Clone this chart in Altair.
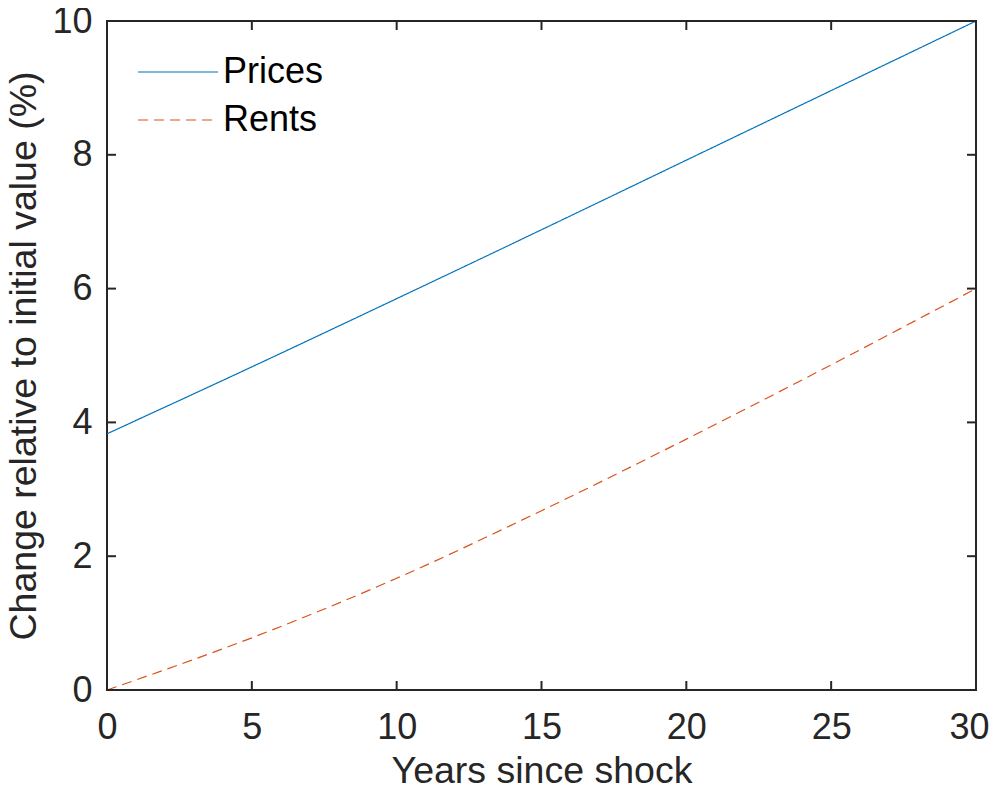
import altair as alt
import pandas as pd

years = [0, 5, 10, 15, 20, 25, 30]
prices = [3.83, 4.83, 5.85, 6.88, 7.92, 8.96, 10.0]
rents = [0.0, 0.78, 1.67, 2.68, 3.75, 4.86, 6.0]
x_ticks = [0, 5, 10, 15, 20, 25, 30]
y_ticks = [0, 2, 4, 6, 8, 10]
series = ["Prices", "Rents"]
colors = ["#0072BD", "#D95319"]

W, H = 869, 669
TICK = 9
AX = "#262626"
FONT = "Liberation Sans"

df = pd.DataFrame({
    "year": years + years,
    "value": prices + rents,
    "series": [series[0]] * len(years) + [series[1]] * len(years),
})

xs = alt.Scale(domain=[0, 30], nice=False, zero=False)
ys = alt.Scale(domain=[0, 10], nice=False, zero=False)

x_axis = alt.Axis(values=x_ticks, title="Years since shock", labelPadding=20,
                  labelFlush=False, labelOverlap=False,
                  labelOffset={"condition": {"test": "datum.value == 30", "value": -7}, "value": 0},
                  titleY=92, titleBaseline="alphabetic")
y_axis = alt.Axis(values=y_ticks, title="Change relative to initial value (%)", labelPadding=15,
                  labelFlush=False, labelOverlap=False,
                  titleX=-72, titleY=H / 2, titleAngle=270, titleBaseline="alphabetic",
                  titleAlign="center")

leg = alt.Legend(
    title=None, orient="none", legendX=30, legendY=31,
    symbolType="M-1,0L1,0", symbolSize=6400, symbolStrokeWidth=1.2,
    labelFont=FONT, labelFontSize=36, labelColor="#000000",
    labelOffset=4, rowPadding=8, clipHeight=40, padding=0, labelLimit=400,
)

lines = alt.Chart(df).mark_line(strokeWidth=1.2, interpolate="monotone").encode(
    x=alt.X("year:Q", scale=xs, axis=x_axis),
    y=alt.Y("value:Q", scale=ys, axis=y_axis),
    color=alt.Color("series:N", scale=alt.Scale(domain=series, range=colors), legend=leg),
    strokeDash=alt.StrokeDash("series:N", scale=alt.Scale(domain=series, range=[[1, 0], [10, 6]]), legend=leg),
)

xt = alt.Chart(pd.DataFrame({"year": x_ticks}))
yt = alt.Chart(pd.DataFrame({"value": y_ticks}))

x_bottom = xt.mark_rule(color=AX, strokeWidth=2).encode(
    x=alt.X("year:Q", scale=xs, axis=x_axis), y=alt.value(H), y2=alt.value(H - TICK))
x_top = xt.mark_rule(color=AX, strokeWidth=2).encode(
    x=alt.X("year:Q", scale=xs, axis=x_axis), y=alt.value(0), y2=alt.value(TICK))
y_left = yt.mark_rule(color=AX, strokeWidth=2).encode(
    y=alt.Y("value:Q", scale=ys, axis=y_axis), x=alt.value(0), x2=alt.value(TICK))
y_right = yt.mark_rule(color=AX, strokeWidth=2).encode(
    y=alt.Y("value:Q", scale=ys, axis=y_axis), x=alt.value(W), x2=alt.value(W - TICK))

chart = alt.layer(lines, x_bottom, x_top, y_left, y_right).properties(
    width=W, height=H,
    autosize=alt.AutoSizeParams(type="none"),
    padding={"left": 99, "top": 13, "right": 13, "bottom": 96},
    background="white",
).configure_view(
    stroke=AX, strokeWidth=2,
).configure_axis(
    domain=False, ticks=False, grid=False,
    labelFont=FONT, labelFontSize=36, labelColor=AX,
    titleFont=FONT, titleFontSize=37.5, titleColor=AX, titleFontWeight="normal",
)

chart.save("out.html", embed_options={"renderer": "svg", "actions": False})
